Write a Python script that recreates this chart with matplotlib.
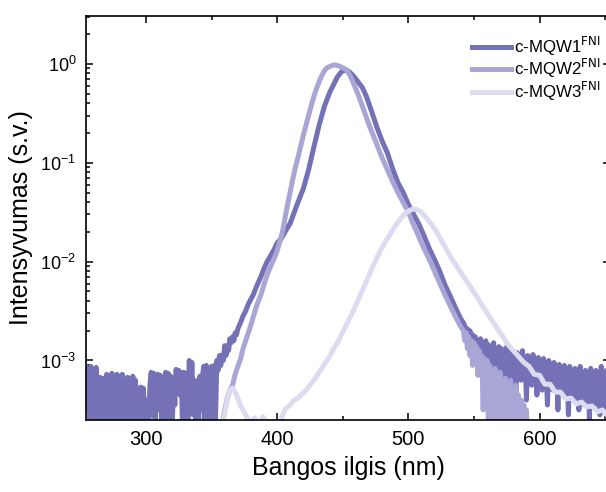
import numpy as np
import matplotlib
matplotlib.use("Agg")
import matplotlib.pyplot as plt
from matplotlib.ticker import LogLocator, MultipleLocator

plt.rcParams['font.family'] = ['Liberation Sans', 'DejaVu Sans']

# c-MQW1: noisy floor (1 nm), peak, noisy tail (1 nm)  -- values are log10(I)
w1_floor = list(range(254, 371))
l1_floor = [-3.06, -3.5, -3.08, -3.62, -3.06, -3.45, -3.1, -3.7, -3.07, -3.5,
            -3.8, -3.17, -3.55, -3.18, -3.6, -3.8, -3.14, -3.5, -3.15, -3.65,
            -3.13, -3.4, -3.15, -3.7, -3.14, -3.5, -3.16, -3.6, -3.14, -3.45,
            -3.4, -3.7, -3.17, -3.55, -3.18, -3.6, -3.16, -3.7, -3.2, -3.5,
            -3.3, -3.75, -3.27, -3.6, -3.28, -3.5, -3.8, -3.4, -3.8, -3.25,
            -3.12, -3.55, -3.13, -3.6, -3.2, -3.14, -3.5, -3.15, -3.7, -3.2,
            -3.55, -3.12, -3.6, -3.13, -3.5, -3.16, -3.7, -3.18, -3.45, -3.09,
            -3.3, -3.1, -3.35, -3.12, -3.8, -3.12, -3.5, -3.13, -3.65, -3.0,
            -3.4, -3.02, -3.55, -3.2, -3.6, -3.21, -3.75, -3.16, -3.5, -3.17,
            -3.06, -3.6, -3.05, -3.45, -3.08, -3.8, -3.06, -3.5, -3.05, -3.6,
            -3.0, -3.1, -2.95, -3.05, -2.95, -3.0, -2.85, -2.95, -2.85, -2.9,
            -2.78, -2.82, -2.76, -2.8, -2.72, -2.74, -2.68]
w1_peak = [372, 374, 376, 378, 380, 382, 384, 386, 388, 390, 392, 395, 398, 400,
           403, 406, 410, 415, 420, 424, 428, 432, 436, 440, 443, 446, 449, 452,
           455, 458, 461, 465, 468, 472, 476, 480, 484, 488, 492, 496, 500, 504,
           508, 512, 516, 520, 524, 528, 532, 536, 540, 542]
l1_peak = [-2.62, -2.55, -2.5, -2.43, -2.38, -2.33, -2.26, -2.2, -2.14, -2.07,
           -2.01, -1.94, -1.87, -1.81, -1.77, -1.7, -1.61, -1.43, -1.26, -1.07,
           -0.84, -0.62, -0.43, -0.29, -0.21, -0.13, -0.08, -0.06, -0.08, -0.12,
           -0.17, -0.24, -0.33, -0.48, -0.64, -0.78, -0.9, -1.06, -1.2, -1.3,
           -1.42, -1.52, -1.62, -1.74, -1.87, -1.98, -2.1, -2.24, -2.35, -2.47,
           -2.58, -2.62]
w1_tail = list(range(543, 656))
l1_tail = [-2.65, -2.8, -2.68, -2.85, -2.7, -2.92, -2.74, -2.88, -2.76, -3.0,
           -2.8, -2.95, -2.78, -3.05, -2.82, -3.0, -2.8, -3.1, -2.84, -3.05,
           -2.86, -3.15, -2.82, -3.0, -2.9, -3.2, -2.86, -3.05, -2.88, -3.12,
           -2.9, -3.25, -2.86, -3.1, -2.92, -3.2, -2.9, -3.05, -2.95, -3.3,
           -2.92, -3.1, -2.96, -3.2, -2.9, -3.15, -2.98, -3.4, -2.95, -3.15,
           -3.0, -3.25, -2.94, -3.1, -3.02, -3.35, -2.97, -3.15, -3.03, -3.3,
           -2.98, -3.2, -3.04, -3.45, -3.0, -3.2, -3.06, -3.3, -3.02, -3.25,
           -3.08, -3.5, -3.04, -3.2, -3.1, -3.35, -3.05, -3.25, -3.1, -3.55,
           -3.06, -3.3, -3.12, -3.4, -3.08, -3.25, -3.12, -3.5, -3.06, -3.3,
           -3.14, -3.45, -3.1, -3.28, -3.12, -3.6, -3.08, -3.3, -3.15, -3.45,
           -3.1, -3.35, -3.12, -3.55, -3.06, -3.3, -3.14, -3.5, -3.1, -3.35,
           -3.15, -3.6, -3.12]

# c-MQW2
w2_main = [356, 358, 360, 362, 364, 366, 368, 370, 372, 374, 376, 378, 380, 382,
           384, 386, 388, 390, 392, 394, 396, 398, 400, 402, 404, 406, 408, 410,
           412, 414, 416, 418, 420, 422, 424, 426, 428, 430, 432, 434, 436, 438,
           441, 444, 447, 450, 453, 456, 459, 462, 465, 468, 471, 474, 477, 480,
           484, 488, 492, 496, 500, 504, 508, 512, 516, 520, 524, 528, 532, 536,
           540]
l2_main = [-3.8, -3.65, -3.5, -3.38, -3.3, -3.25, -3.14, -3.06, -2.99, -2.88,
           -2.8, -2.72, -2.64, -2.55, -2.46, -2.39, -2.32, -2.23, -2.15, -2.08,
           -2.02, -1.96, -1.89, -1.8, -1.7, -1.56, -1.42, -1.29, -1.16, -1.04,
           -0.94, -0.83, -0.72, -0.62, -0.52, -0.42, -0.33, -0.25, -0.18, -0.12,
           -0.07, -0.04, -0.02, -0.01, -0.02, -0.04, -0.06, -0.13, -0.22, -0.32,
           -0.43, -0.54, -0.65, -0.75, -0.85, -0.95, -1.07, -1.19, -1.3, -1.4,
           -1.5, -1.63, -1.75, -1.87, -1.98, -2.1, -2.22, -2.34, -2.45, -2.56,
           -2.66]
w2_tail = list(range(542, 596))
l2_tail = [-2.7, -2.8, -2.72, -2.88, -2.76, -2.95, -2.8, -3.05, -2.82, -2.98,
           -2.86, -3.15, -2.9, -3.05, -2.95, -3.5, -2.98, -3.2, -3.0, -3.7,
           -3.05, -3.3, -3.1, -3.8, -3.08, -3.4, -3.15, -3.8, -3.12, -3.5,
           -3.2, -3.8, -3.18, -3.6, -3.25, -3.8, -3.2, -3.7, -3.3, -3.8,
           -3.25, -3.8, -3.35, -3.8, -3.4, -3.8, -3.45, -3.8, -3.5, -3.8,
           -3.7, -3.8, -3.9, -3.9]

# c-MQW3
w3 = [356, 359, 362, 364, 366, 368, 370, 372, 374, 376, 378, 380, 383, 386,
      389, 392, 395, 398, 401, 403, 405, 407, 410, 413, 416, 419, 422, 425,
      428, 431, 434, 437, 440, 443, 446, 449, 452, 455, 458, 461, 464, 467,
      470, 473, 476, 479, 482, 485, 488, 491, 494, 497, 500, 503, 506, 509,
      512, 515, 518, 521, 524, 527, 530, 533, 536, 540, 544, 548, 552, 556,
      560, 564, 568, 572, 576, 580, 584, 588, 592, 596, 600, 604, 608, 612,
      616, 620, 624, 628, 632, 636, 640, 644, 648, 652, 656]
l3 = [-3.8, -3.6, -3.4, -3.3, -3.28, -3.32, -3.38, -3.45, -3.5, -3.55, -3.6,
      -3.62, -3.58, -3.65, -3.57, -3.62, -3.7, -3.75, -3.7, -3.6, -3.52, -3.48,
      -3.45, -3.4, -3.38, -3.34, -3.3, -3.25, -3.2, -3.14, -3.08, -3.02, -2.96,
      -2.88, -2.82, -2.74, -2.66, -2.58, -2.5, -2.41, -2.32, -2.23, -2.14,
      -2.05, -1.96, -1.88, -1.81, -1.75, -1.68, -1.62, -1.57, -1.52, -1.49,
      -1.47, -1.47, -1.49, -1.53, -1.58, -1.63, -1.69, -1.76, -1.83, -1.9,
      -1.97, -2.03, -2.11, -2.19, -2.27, -2.35, -2.44, -2.52, -2.6, -2.68,
      -2.76, -2.84, -2.9, -2.96, -3.02, -3.06, -3.14, -3.15, -3.24, -3.24,
      -3.32, -3.32, -3.39, -3.38, -3.44, -3.42, -3.47, -3.46, -3.52, -3.5,
      -3.56, -3.58]

labels = ['c-MQW1$^{\\mathrm{FNI}}$', 'c-MQW2$^{\\mathrm{FNI}}$', 'c-MQW3$^{\\mathrm{FNI}}$']
colors = ['#7571b7', '#a9a5d5', '#dddbf0']

w1 = np.array(w1_floor + w1_peak + w1_tail)
i1 = 10 ** np.array(l1_floor + l1_peak + l1_tail)
w2 = np.array(w2_main + w2_tail)
i2 = 10 ** np.array(l2_main + l2_tail)
i3 = 10 ** np.array(l3)

fig = plt.figure(figsize=(6.06, 4.92), dpi=100)
ax = fig.add_axes([86 / 606, 1 - 420 / 492, (610 - 86) / 606, (420 - 16) / 492])

lw = 3.6
ax.plot(w1, i1, color=colors[0], lw=lw, label=labels[0], solid_joinstyle='round')
ax.plot(w2, i2, color=colors[1], lw=lw, label=labels[1], solid_joinstyle='round')
ax.plot(w3, i3, color=colors[2], lw=lw, label=labels[2], solid_joinstyle='round')

ax.set_yscale('log')
ax.set_xlim(254.3, 653.7)
ax.set_ylim(2.5e-4, 3.05)
ax.xaxis.set_major_locator(MultipleLocator(100))
ax.xaxis.set_minor_locator(MultipleLocator(50))
ax.yaxis.set_major_locator(LogLocator(base=10, numticks=10))
ax.yaxis.set_minor_locator(LogLocator(base=10, subs=np.arange(2, 10), numticks=20))

ax.tick_params(which='both', direction='in', top=True, right=True, width=1.1, pad=7)
ax.tick_params(axis='x', labelsize=14.5)
ax.tick_params(axis='y', labelsize=13)
ax.tick_params(which='major', length=5)
ax.tick_params(which='minor', length=2.8)
for s in ax.spines.values():
    s.set_linewidth(1.2)

ax.set_xlabel('Bangos ilgis (nm)', fontsize=18, labelpad=5)
ax.set_ylabel('Intensyvumas (s.v.)', fontsize=18, labelpad=5)

ax.legend(loc='upper left', bbox_to_anchor=(472 / 606, 1 - 35 / 492),
          bbox_transform=fig.transFigure, frameon=False, fontsize=12.2,
          handlelength=2.3, handletextpad=0.2, labelspacing=-0.05,
          borderpad=0, borderaxespad=0)

fig.savefig('out.png', dpi=100)
